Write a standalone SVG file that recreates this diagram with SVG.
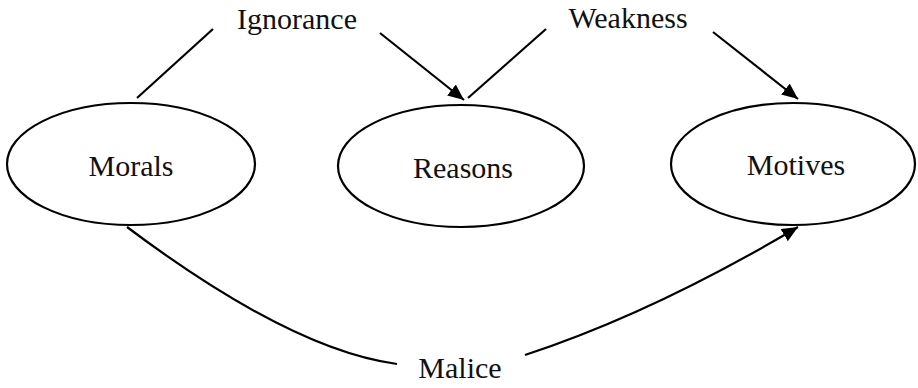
<svg xmlns="http://www.w3.org/2000/svg" width="918" height="388" viewBox="0 0 918 388">
<style>
.node ellipse{fill:#fff;stroke:#000;stroke-width:2.2}
text{font-family:"Liberation Serif","DejaVu Serif",serif;font-size:30px;fill:#111;text-anchor:middle}
.edge{fill:none;stroke:#000;stroke-width:2.2}
</style>
<defs>
<marker id="arr" markerUnits="userSpaceOnUse" markerWidth="18" markerHeight="14" refX="16" refY="7" orient="auto">
<path d="M0,0 L16,7 L0,14 Z" fill="#000"/>
</marker>
</defs>
<rect width="918" height="388" fill="#fff"/>
<g id="connectors">
<path class="edge" d="M213,29 L137,98"/>
<path class="edge" d="M380,33 L464,100" marker-end="url(#arr)"/>
<path class="edge" d="M546,29 L468,98"/>
<path class="edge" d="M713,32 L798,99" marker-end="url(#arr)"/>
<path class="edge" d="M127,227 Q291,350 397,364"/>
<path class="edge" d="M525,355 Q653,313 798,227" marker-end="url(#arr)"/>
</g>
<g id="morals" class="node"><ellipse cx="131" cy="164" rx="124" ry="61"/><text x="131" y="176">Morals</text></g>
<g id="reasons" class="node"><ellipse cx="461" cy="166" rx="123" ry="61"/><text x="463" y="178">Reasons</text></g>
<g id="motives" class="node"><ellipse cx="793" cy="164" rx="122" ry="61"/><text x="796" y="175">Motives</text></g>
<g id="ignorance"><text x="297" y="29">Ignorance</text></g>
<g id="weakness"><text x="628" y="28">Weakness</text></g>
<g id="malice"><text x="460" y="378">Malice</text></g>
</svg>
